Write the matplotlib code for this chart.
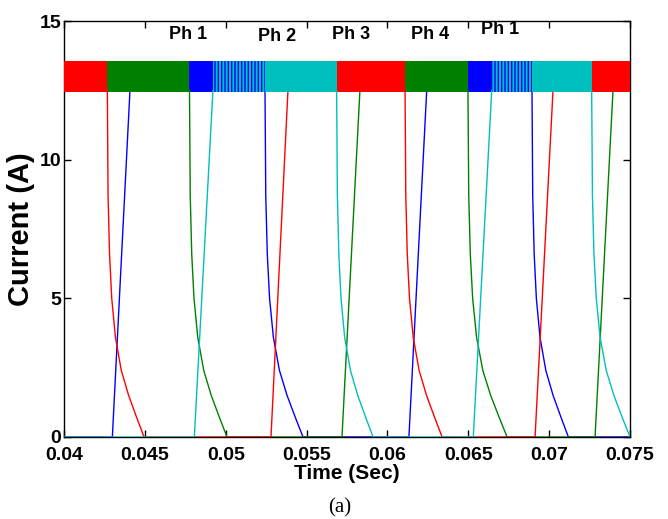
import numpy as np
import matplotlib
matplotlib.use("Agg")
import matplotlib.pyplot as plt

# phase colours in drawing order (later ones sit on top)
phase_colors = ["b", "g", "r", "c"]

# per phase conduction events (s): start of rise, reaches band, switch off, current back to zero
# None for start/top means the phase was already conducting at 0.04 s
blue_on = [0.04299, 0.06133]
blue_top = [0.04408, 0.06243]
blue_off = [0.05243, 0.06894]
blue_zero = [0.05478, 0.07119]

green_on = [None, 0.05719, 0.07284]
green_top = [None, 0.05830, 0.07395]
green_off = [0.04776, 0.06498, None]
green_zero = [0.05008, 0.06740, None]

red_on = [None, 0.05280, 0.06913]
red_top = [None, 0.05385, 0.07024]
red_off = [0.04268, 0.06109, None]
red_zero = [0.04495, 0.06338, None]

cyan_on = [0.04806, 0.06531]
cyan_top = [0.04921, 0.06645]
cyan_off = [0.05686, 0.07263]
cyan_zero = [0.05911, 0.07500]

decay_frac = [0.0, 0.02, 0.06, 0.12, 0.22, 0.38, 0.58, 0.80, 1.0]
decay_amp = [12.5, 8.7, 6.6, 5.0, 3.6, 2.4, 1.5, 0.7, 0.0]

# hysteresis band of the current controller
band_low = 12.45
band_high = 13.55

t_start, t_end = 0.04, 0.075

phase_labels = ["Ph 1", "Ph 2", "Ph 3", "Ph 4", "Ph 1"]
label_pos = [(0.04767, 14.51), (0.05317, 14.44), (0.05775, 14.53), (0.06263, 14.51), (0.06696, 14.71)]


def build_phase(on, top, off, zero):
    t, i = [t_start], [band_low + 0.05 if on[0] is None else 0.0]
    bands = []
    for k in range(len(on)):
        if on[k] is not None:
            t += [on[k], top[k]]
            i += [0.0, 12.5]
        b0 = t_start if top[k] is None else top[k]
        b1 = t_end if off[k] is None else off[k]
        bands.append((b0, b1))
        if off[k] is not None:
            for f, a in zip(decay_frac, decay_amp):
                t.append(off[k] + f * (zero[k] - off[k]))
                i.append(a)
        else:
            t.append(t_end)
            i.append(12.5)
    if t[-1] < t_end:
        t.append(t_end)
        i.append(0.0)
    return t, i, bands


phases = [
    build_phase(blue_on, blue_top, blue_off, blue_zero),
    build_phase(green_on, green_top, green_off, green_zero),
    build_phase(red_on, red_top, red_off, red_zero),
    build_phase(cyan_on, cyan_top, cyan_off, cyan_zero),
]

fig = plt.figure(figsize=(6.68, 5.19), dpi=100)
ax = fig.add_axes([0.0958, 0.158, 0.8473, 0.8015])

for z, (col, (t, i, bands)) in enumerate(zip(phase_colors, phases)):
    ax.plot(t, i, color=col, lw=1.0, zorder=2 + z)
    for b0, b1 in bands:
        ax.fill_between([b0, b1], band_low, band_high, color=col, lw=0, zorder=2 + z)

# cyan chops over blue where both sit in the band: blue shows between the cyan strokes
blue_bands = phases[0][2]
for c0, c1 in phases[3][2]:
    for b0, b1 in blue_bands:
        lo, hi = max(c0, b0), min(c1, b1)
        if hi > lo:
            ax.fill_between([lo, hi], band_low, band_high, facecolor="c", edgecolor="b",
                            hatch="|||||", lw=0, zorder=6)

tick_font = dict(family="Liberation Sans", weight="bold", size=14)
ax.set_xlim(t_start, t_end)
ax.set_ylim(0, 15)
ax.set_xticks([0.04, 0.045, 0.05, 0.055, 0.06, 0.065, 0.07, 0.075])
ax.set_xticklabels(["0.04", "0.045", "0.05", "0.055", "0.06", "0.065", "0.07", "0.075"], **tick_font)
ax.set_yticks([0, 5, 10, 15])
ax.set_yticklabels(["0", "5", "10", "15"], **tick_font)
ax.tick_params(direction="in", length=5, width=1, top=True, right=True)
ax.tick_params(axis="y", pad=2)
ax.tick_params(axis="x", pad=7)
for s in ax.spines.values():
    s.set_linewidth(1.0)

ax.set_xlabel("Time (Sec)", family="Liberation Sans", weight="bold", size=15, labelpad=0)
ax.set_ylabel("Current (A)", family="Liberation Sans", weight="bold", size=21, labelpad=3)

for txt, (x, y) in zip(phase_labels, label_pos):
    ax.text(x, y, txt, ha="center", va="center", family="Liberation Sans", weight="bold",
            size=13, zorder=10)

fig.text(0.509, 0.021, "(a)", ha="center", va="center", family="Liberation Serif", size=15)

fig.savefig("out.png", dpi=100)
